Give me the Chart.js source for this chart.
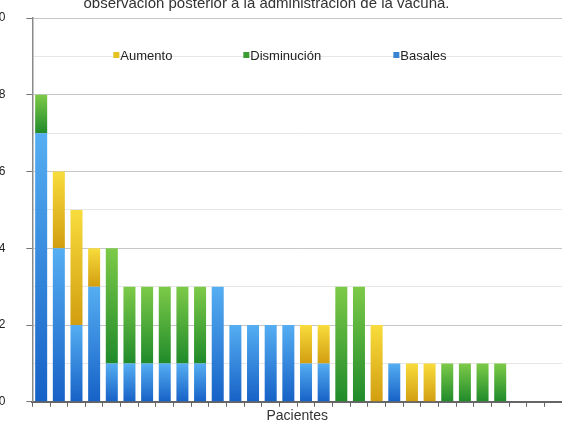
<!DOCTYPE html>
<html>
<head>
<meta charset="utf-8">
<script src="https://cdn.jsdelivr.net/npm/chart.js@4"></script>
<style>
  html, body { margin: 0; padding: 0; background: #fff; overflow: hidden; }
  #wrap { position: relative; width: 562px; height: 425px; overflow: hidden; }
  #chart { position: absolute; left: -29px; top: -20px; }
</style>
</head>
<body>
<div id="wrap"><canvas id="chart" width="591" height="450"></canvas></div>
<script>
// ── Data ───────────────────────────────────────────────────
const pacientes = [
  "P1", "P2", "P3", "P4", "P5", "P6", "P7", "P8", "P9", "P10",
  "P11", "P12", "P13", "P14", "P15", "P16", "P17", "P18", "P19", "P20",
  "P21", "P22", "P23", "P24", "P25", "P26", "P27", "P28", "P29", "P30",
];
const basales     = [7, 4, 2, 3, 1, 1, 1, 1, 1, 1, 3, 2, 2, 2, 2, 1, 1, 0, 0, 0, 1, 0, 0, 0, 0, 0, 0, 0, 0, 0];
const disminucion = [1, 0, 0, 0, 3, 2, 2, 2, 2, 2, 0, 0, 0, 0, 0, 0, 0, 3, 3, 0, 0, 0, 0, 1, 1, 1, 1, 0, 0, 0];
const aumento     = [0, 2, 3, 1, 0, 0, 0, 0, 0, 0, 0, 0, 0, 0, 0, 1, 1, 0, 0, 2, 0, 1, 1, 0, 0, 0, 0, 0, 0, 0];

const yMin = 0, yMax = 10, yStep = 1;
const titleText = "observación posterior a la administración de la vacuna.";
const xTitle = "Pacientes";

// ── Colours ────────────────────────────────────────────────
const BLUE   = ["#55aef2", "#1661c6"];
const GREEN  = ["#7dca48", "#1f8a2a"];
const YELLOW = ["#f8dc3c", "#d29e10"];

// gradient per stacked segment, light on top, dark at the base
function segmentFill(colors) {
  return ctx => {
    const chart = ctx.chart;
    const y = chart.scales.y;
    if (!y || ctx.type !== "data") return colors[0];
    const i = ctx.dataIndex;
    let base = 0;
    for (let k = 0; k < ctx.datasetIndex; k++) base += chart.data.datasets[k].data[i];
    const top = base + chart.data.datasets[ctx.datasetIndex].data[i];
    const y0 = y.getPixelForValue(top);
    const y1 = y.getPixelForValue(base);
    if (!isFinite(y0) || !isFinite(y1) || y0 === y1) return colors[0];
    const g = chart.ctx.createLinearGradient(0, y0, 0, y1);
    g.addColorStop(0, colors[0]);
    g.addColorStop(1, colors[1]);
    return g;
  };
}

// legend drawn inside the plot, over the grid lines
const legendItems = [
  { text: "Aumento",     color: "#e6c21c", dx: 81 },
  { text: "Disminución", color: "#3c9c32", dx: 211 },
  { text: "Basales",     color: "#3a84d4", dx: 361 },
];
const innerLegend = {
  id: "innerLegend",
  afterDatasetsDraw(chart) {
    const { ctx, chartArea } = chart;
    const cy = chartArea.top + 37;
    ctx.save();
    ctx.font = "13px Arial, 'Liberation Sans', sans-serif";
    ctx.textBaseline = "middle";
    ctx.textAlign = "left";
    legendItems.forEach(it => {
      const x = chartArea.left + it.dx;
      ctx.fillStyle = it.color;
      ctx.fillRect(x, cy - 3, 6, 6);
      ctx.fillStyle = "#222";
      ctx.fillText(it.text, x + 7, cy + 1);
    });
    ctx.restore();
  },
};

const barOpts = { barPercentage: 0.68, categoryPercentage: 1, borderWidth: 0 };

new Chart(document.getElementById("chart"), {
  type: "bar",
  data: {
    labels: pacientes,
    datasets: [
      { label: "Basales",     data: basales,     backgroundColor: segmentFill(BLUE),   ...barOpts },
      { label: "Disminución", data: disminucion, backgroundColor: segmentFill(GREEN),  ...barOpts },
      { label: "Aumento",     data: aumento,     backgroundColor: segmentFill(YELLOW), ...barOpts },
    ],
  },
  options: {
    responsive: false,
    animation: false,
    layout: { padding: 0 },
    plugins: {
      legend: { display: false },
      tooltip: { enabled: false },
      title: {
        display: true,
        text: titleText,
        color: "#333",
        font: { family: "Arial, 'Liberation Sans', sans-serif", size: 15, weight: "normal" },
        padding: { top: 15, bottom: 5 },
      },
    },
    scales: {
      x: {
        stacked: true,
        grid: { drawOnChartArea: false, drawTicks: true, tickLength: 5, tickColor: "#666", offset: true },
        border: { color: "#666", width: 2 },
        ticks: { display: false },
        title: {
          display: true,
          text: xTitle,
          color: "#333",
          font: { family: "Arial, 'Liberation Sans', sans-serif", size: 14 },
          padding: { top: 1, bottom: 1 },
        },
      },
      y: {
        stacked: true,
        min: yMin,
        max: yMax,
        ticks: {
          stepSize: yStep,
          padding: 21,
          color: "#222",
          font: { family: "Arial, 'Liberation Sans', sans-serif", size: 12 },
          callback: v => (v % 2 === 0 ? v : ""),
        },
        grid: {
          color: ctx => (ctx.tick && ctx.tick.value % 2 ? "#e6e6e6" : "#c6c6c6"),
          tickColor: ctx => (ctx.tick && ctx.tick.value % 2 ? "rgba(0,0,0,0)" : "#777"),
          tickLength: 6,
        },
        border: { color: "#8a8a8a", width: 1.5 },
      },
    },
  },
  plugins: [innerLegend],
});
</script>
</body>
</html>
